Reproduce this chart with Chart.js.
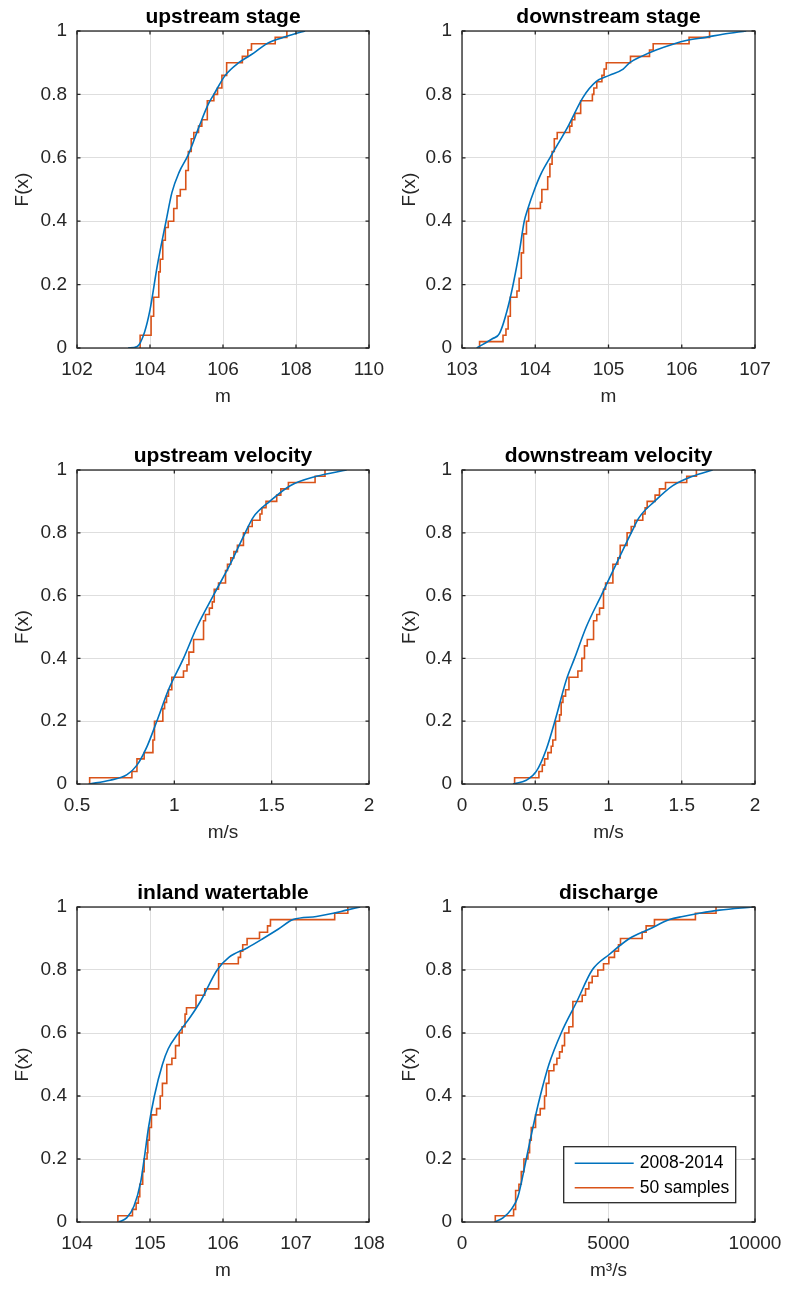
<!DOCTYPE html>
<html><head><meta charset="utf-8">
<script src="https://cdn.jsdelivr.net/npm/chart.js@4/dist/chart.umd.min.js"></script>
<style>
html,body{margin:0;padding:0;background:#fff;width:786px;height:1289px;overflow:hidden;position:relative}
canvas{position:absolute}
</style></head><body>
<script>
// ---------- data ----------
const panelTitles = ['upstream stage','downstream stage','upstream velocity','downstream velocity','inland watertable','discharge'];
const xAxisLabels = ['m','m','m/s','m/s','m','m\u00B3/s'];
const seriesNames = ['2008-2014','50 samples'];
const upStageTicks = [102,104,106,108,110];
const downStageTicks = [103,104,105,106,107];
const upVelTicks = [0.5,1,1.5,2];
const downVelTicks = [0,0.5,1,1.5,2];
const inlandTicks = [104,105,106,107,108];
const dischargeTicks = [0,5000,10000];
const yTickValues = [0,0.2,0.4,0.6,0.8,1];

// 2008-2014 empirical CDFs (blue)
const upStageCurveX = [103.4,103.65,103.85,104.0,104.2,104.44,104.6,104.8,105.05,105.35,105.6,105.75,106.06,106.43,106.84,107.2,107.66,107.93,108.25];
const upStageCurveY = [0,0.005,0.05,0.12,0.26,0.40,0.49,0.555,0.61,0.70,0.77,0.80,0.86,0.90,0.93,0.96,0.98,0.99,1.0];
const downStageCurveX = [103.2,103.42,103.51,103.65,103.78,103.85,103.9,103.99,104.08,104.2,104.45,104.65,104.83,105.01,105.2,105.29,105.45,105.65,105.9,106.06,106.33,106.56,106.88];
const downStageCurveY = [0,0.03,0.045,0.15,0.30,0.40,0.44,0.50,0.55,0.60,0.70,0.79,0.84,0.86,0.88,0.90,0.92,0.94,0.96,0.97,0.98,0.99,1.0];
const upVelCurveX = [0.56,0.67,0.757,0.808,0.86,0.91,0.97,1.047,1.116,1.2,1.287,1.364,1.406,1.49,1.595,1.73,1.885];
const upVelCurveY = [0,0.012,0.03,0.06,0.12,0.2,0.3,0.4,0.5,0.6,0.7,0.8,0.85,0.9,0.95,0.98,1.0];
const downVelCurveX = [0.348,0.439,0.507,0.575,0.643,0.711,0.768,0.848,0.95,1.052,1.155,1.211,1.314,1.439,1.575,1.711];
const downVelCurveY = [0,0.012,0.04,0.11,0.215,0.33,0.4,0.5,0.6,0.7,0.8,0.85,0.9,0.95,0.98,1.0];
const inlandCurveX = [104.57,104.68,104.78,104.87,104.92,104.98,105.06,105.17,105.25,105.39,105.55,105.69,105.92,106.08,106.33,106.55,106.76,106.96,107.28,107.51,107.69,107.88];
const inlandCurveY = [0,0.013,0.05,0.124,0.2,0.3,0.4,0.5,0.55,0.6,0.65,0.7,0.8,0.84,0.87,0.9,0.93,0.96,0.97,0.98,0.99,1.0];
const dischargeCurveX = [1114,1398,1682,1909,2193,2420,2670,2966,3386,3920,4443,5034,5716,6400,7080,7534,8102,8784,9920];
const dischargeCurveY = [0,0.013,0.04,0.08,0.2,0.3,0.4,0.5,0.6,0.7,0.8,0.85,0.9,0.93,0.96,0.97,0.98,0.99,1.0];

// 50-sample empirical CDFs (orange step): jump location and level after jump
const upStageSampleX = [103.73,103.73,104.03,104.1,104.24,104.28,104.35,104.42,104.5,104.65,104.74,104.83,104.98,105.05,105.13,105.2,105.33,105.42,105.57,105.75,105.85,105.97,106.1,106.53,106.68,106.78,107.43,107.75];
const upStageSampleY = [0,0.04,0.10,0.16,0.24,0.28,0.34,0.38,0.40,0.44,0.48,0.50,0.56,0.62,0.66,0.68,0.70,0.72,0.78,0.80,0.82,0.86,0.90,0.92,0.94,0.96,0.98,1.0];
const downStageSampleX = [103.24,103.24,103.56,103.6,103.63,103.66,103.75,103.78,103.81,103.84,103.88,103.91,104.07,104.09,104.17,104.2,104.23,104.26,104.3,104.47,104.5,104.54,104.62,104.78,104.8,104.84,104.91,104.94,104.97,105.3,105.56,105.61,106.1,106.38];
const downStageSampleY = [0,0.02,0.04,0.06,0.10,0.16,0.18,0.22,0.30,0.36,0.40,0.44,0.46,0.50,0.54,0.58,0.62,0.66,0.68,0.70,0.72,0.74,0.78,0.80,0.82,0.84,0.86,0.88,0.90,0.92,0.94,0.96,0.98,1.0];
const upVelSampleX = [0.565,0.565,0.782,0.808,0.845,0.89,0.898,0.941,0.95,0.96,0.97,0.987,1.047,1.065,1.075,1.099,1.15,1.16,1.18,1.195,1.205,1.227,1.263,1.273,1.29,1.306,1.324,1.355,1.38,1.4,1.44,1.45,1.471,1.526,1.547,1.586,1.723,1.774];
const upVelSampleY = [0,0.02,0.04,0.08,0.10,0.14,0.20,0.24,0.26,0.28,0.30,0.34,0.36,0.38,0.42,0.46,0.52,0.54,0.56,0.58,0.62,0.64,0.68,0.70,0.72,0.74,0.76,0.80,0.82,0.84,0.86,0.88,0.90,0.92,0.94,0.96,0.98,1.0];
const downVelSampleX = [0.359,0.359,0.525,0.548,0.564,0.586,0.609,0.62,0.639,0.666,0.677,0.689,0.707,0.73,0.791,0.818,0.836,0.855,0.898,0.92,0.939,0.966,0.98,1.03,1.064,1.08,1.127,1.155,1.18,1.234,1.25,1.264,1.318,1.348,1.389,1.534,1.6];
const downVelSampleY = [0,0.02,0.04,0.06,0.08,0.10,0.12,0.14,0.20,0.22,0.26,0.28,0.30,0.34,0.36,0.40,0.44,0.46,0.52,0.54,0.56,0.62,0.64,0.70,0.72,0.76,0.80,0.82,0.84,0.86,0.88,0.90,0.92,0.94,0.96,0.98,1.0];
const inlandSampleX = [104.56,104.56,104.76,104.81,104.84,104.86,104.9,104.92,104.96,104.97,104.99,105.02,105.09,105.14,105.17,105.23,105.3,105.35,105.4,105.44,105.48,105.5,105.63,105.75,105.94,106.21,106.24,106.27,106.33,106.5,106.61,106.65,107.53,107.71];
const inlandSampleY = [0,0.02,0.04,0.06,0.08,0.12,0.16,0.20,0.22,0.26,0.30,0.34,0.36,0.40,0.44,0.50,0.52,0.56,0.60,0.62,0.66,0.68,0.72,0.74,0.82,0.84,0.86,0.88,0.90,0.92,0.94,0.96,0.98,1.0];
const dischargeSampleX = [1136,1136,1761,1830,1943,2023,2114,2250,2307,2364,2511,2670,2818,2875,2966,3136,3239,3330,3420,3500,3648,3784,4102,4216,4330,4443,4636,4830,5011,5205,5341,5409,6148,6284,6568,7966,8670];
const dischargeSampleY = [0,0.02,0.04,0.10,0.12,0.16,0.20,0.22,0.26,0.30,0.34,0.36,0.40,0.44,0.48,0.50,0.52,0.54,0.56,0.60,0.62,0.70,0.72,0.74,0.76,0.78,0.80,0.82,0.84,0.86,0.88,0.90,0.92,0.94,0.96,0.98,1.0];

const xTickSets = [upStageTicks,downStageTicks,upVelTicks,downVelTicks,inlandTicks,dischargeTicks];
const curveXs = [upStageCurveX,downStageCurveX,upVelCurveX,downVelCurveX,inlandCurveX,dischargeCurveX];
const curveYs = [upStageCurveY,downStageCurveY,upVelCurveY,downVelCurveY,inlandCurveY,dischargeCurveY];
const sampleXs = [upStageSampleX,downStageSampleX,upVelSampleX,downVelSampleX,inlandSampleX,dischargeSampleX];
const sampleYs = [upStageSampleY,downStageSampleY,upVelSampleY,downVelSampleY,inlandSampleY,dischargeSampleY];

// ---------- layout / style ----------
const FONT = "'Liberation Sans', Arial, Helvetica, sans-serif";
const AXIS_COLOR = '#262626';
const GRID_COLOR = '#dedede';
const BLUE = '#0072BD';
const ORANGE = '#D95319';
const geo = [
  {x:0,   y:0,   w:393, h:410, yW:77, padR:24, yTitlePad:11.6},
  {x:393, y:0,   w:393, h:410, yW:69, padR:31, yTitlePad:5.6},
  {x:0,   y:439, w:393, h:407, yW:77, padR:24, yTitlePad:11.6},
  {x:393, y:439, w:393, h:407, yW:69, padR:31, yTitlePad:5.6},
  {x:0,   y:876, w:393, h:408, yW:77, padR:24, yTitlePad:11.6},
  {x:393, y:876, w:393, h:408, yW:69, padR:31, yTitlePad:5.6}
];

Chart.defaults.font.family = FONT;

const boxPlugin = {
  id: 'matlabBox',
  afterDatasetsDraw(chart, args, opts) {
    const {ctx, chartArea: a, scales} = chart;
    const xs = scales.x, ys = scales.y;
    ctx.save();
    ctx.strokeStyle = AXIS_COLOR;
    ctx.lineWidth = 1.3;
    ctx.strokeRect(a.left, a.top, a.right - a.left, a.bottom - a.top);
    const tl = 3.5;
    ctx.beginPath();
    xs.ticks.forEach(t => {
      const px = xs.getPixelForValue(t.value);
      ctx.moveTo(px, a.bottom); ctx.lineTo(px, a.bottom - tl);
      ctx.moveTo(px, a.top); ctx.lineTo(px, a.top + tl);
    });
    ys.ticks.forEach(t => {
      const py = ys.getPixelForValue(t.value);
      ctx.moveTo(a.left, py); ctx.lineTo(a.left + tl, py);
      ctx.moveTo(a.right, py); ctx.lineTo(a.right - tl, py);
    });
    ctx.stroke();
    if (opts && opts.legend) {
      const bw = 172, bh = 56;
      const bx = a.right - 19.3 - bw, by = a.bottom - 19.3 - bh;
      ctx.fillStyle = '#fff';
      ctx.fillRect(bx, by, bw, bh);
      ctx.lineWidth = 1.3;
      ctx.strokeStyle = AXIS_COLOR;
      ctx.strokeRect(bx, by, bw, bh);
      const rows = [16.6, 41];
      chart.data.datasets.forEach((ds, k) => {
        const ly = by + rows[k];
        ctx.strokeStyle = ds.borderColor;
        ctx.lineWidth = 1.6;
        ctx.beginPath(); ctx.moveTo(bx + 11, ly); ctx.lineTo(bx + 70, ly); ctx.stroke();
        ctx.fillStyle = '#000';
        ctx.font = '17.5px ' + FONT;
        ctx.textBaseline = 'middle';
        ctx.textAlign = 'left';
        ctx.fillText(ds.label, bx + 76, ly);
      });
    }
    ctx.restore();
  }
};

function pts(xa, ya) { return xa.map((v, i) => ({x: v, y: ya[i]})); }
const fmt = v => String(+Number(v).toFixed(6));

for (let i = 0; i < 6; i++) {
  const g = geo[i];
  const xt = xTickSets[i];
  const cv = document.createElement('canvas');
  cv.width = g.w; cv.height = g.h;
  cv.style.left = g.x + 'px'; cv.style.top = g.y + 'px';
  cv.style.width = g.w + 'px'; cv.style.height = g.h + 'px';
  document.body.appendChild(cv);
  const tickFont = {family: FONT, size: 19, lineHeight: 1.2};
  new Chart(cv, {
    type: 'line',
    data: {
      datasets: [
        {label: seriesNames[0], data: pts(curveXs[i], curveYs[i]), borderColor: BLUE, borderWidth: 1.6,
         pointRadius: 0, cubicInterpolationMode: 'monotone', fill: false},
        {label: seriesNames[1], data: pts(sampleXs[i], sampleYs[i]), borderColor: ORANGE, borderWidth: 1.6,
         pointRadius: 0, stepped: true, fill: false}
      ]
    },
    options: {
      responsive: false, animation: false, devicePixelRatio: 1,
      layout: {padding: {left: 0, right: g.padR, top: 0, bottom: 0}},
      plugins: {
        legend: {display: false},
        tooltip: {enabled: false},
        title: {display: true, text: panelTitles[i], fullSize: false, color: '#000',
                font: {family: FONT, size: 21, weight: 'bold', lineHeight: 1.2},
                padding: {top: 4.4, bottom: 1.4}},
        matlabBox: {legend: i === 5}
      },
      scales: {
        x: {
          type: 'linear', min: xt[0], max: xt[xt.length - 1],
          afterBuildTicks: s => { s.ticks = xt.map(v => ({value: v})); },
          ticks: {callback: fmt, padding: 3, font: tickFont, color: AXIS_COLOR,
                  maxRotation: 0, autoSkip: false},
          grid: {color: GRID_COLOR, drawTicks: true, tickLength: 7, tickColor: 'rgba(0,0,0,0)', lineWidth: 1},
          border: {display: false},
          title: {display: true, text: xAxisLabels[i], color: AXIS_COLOR, font: tickFont,
                  padding: {top: 0, bottom: 2.2}},
          afterFit: s => { s.height = 62; }
        },
        y: {
          type: 'linear', min: 0, max: 1,
          afterBuildTicks: s => { s.ticks = yTickValues.map(v => ({value: v})); },
          ticks: {callback: fmt, padding: 10, font: tickFont, color: AXIS_COLOR, autoSkip: false},
          grid: {color: GRID_COLOR, drawTicks: false, lineWidth: 1},
          border: {display: false},
          title: {display: true, text: 'F(x)', color: AXIS_COLOR, font: tickFont,
                  padding: {top: g.yTitlePad, bottom: 0}},
          afterFit: s => { s.width = g.yW; }
        }
      }
    },
    plugins: [boxPlugin]
  });
}
</script>
</body></html>
